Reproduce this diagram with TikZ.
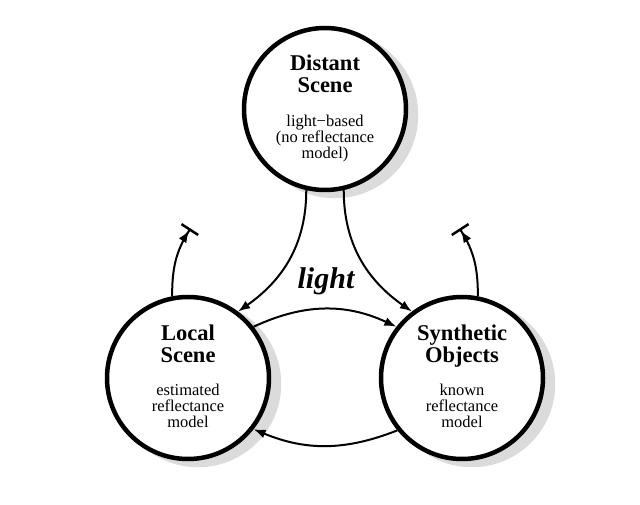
\documentclass[tikz,border=0pt]{standalone}
\usepackage{fontspec}
\setmainfont{Liberation Serif}
\usetikzlibrary{arrows.meta}
\begin{document}
\begin{tikzpicture}[x=1pt,y=1pt,
  state/.style={circle, draw, line width=4.5pt, fill=white, minimum size=162pt, inner sep=0pt},
  shadowc/.style={circle, fill=black!14, minimum size=166.5pt, inner sep=0pt},
  ttl/.style={font=\fontsize{22.5}{22}\selectfont\bfseries, anchor=base, inner sep=0pt},
  sub/.style={font=\fontsize{16.5}{16.5}\selectfont, anchor=base, inner sep=0pt},
  conn/.style={line width=2pt, -{Latex[length=12pt,width=9pt]}},
  inhib/.style={line width=2pt, -{Latex[length=12pt,width=9pt] Bar[width=20pt, line width=2.5pt]}}
]
\useasboundingbox (0,0) rectangle (640,504);
% shadows
\node[shadowc] (Ds) at (335,389) {};
\node[shadowc] (Ls) at (198,120) {};
\node[shadowc] (Ss) at (472,120) {};
% circles
\node[state] (D) at (325,395) {};
\node[state] (L) at (188,126) {};
\node[state] (S) at (462,126) {};
% texts
\node[ttl] (d1) at ([yshift=38pt]D.center) {Distant};
\node[ttl] (d2) at ([yshift=16pt]D.center) {Scene};
\node[sub] (d3) at ([yshift=-17.5pt]D.center) {light−based};
\node[sub] (d4) at ([yshift=-33.5pt]D.center) {(no reflectance};
\node[sub] (d5) at ([yshift=-49.5pt]D.center) {model)};
\node[ttl] (l1) at ([yshift=38pt]L.center) {Local};
\node[ttl] (l2) at ([yshift=16pt]L.center) {Scene};
\node[sub] (l3) at ([yshift=-17.5pt]L.center) {estimated};
\node[sub] (l4) at ([yshift=-33.5pt]L.center) {reflectance};
\node[sub] (l5) at ([yshift=-49.5pt]L.center) {model};
\node[ttl] (s1) at ([yshift=38pt]S.center) {Synthetic};
\node[ttl] (s2) at ([yshift=16pt]S.center) {Objects};
\node[sub] (s3) at ([yshift=-17.5pt]S.center) {known};
\node[sub] (s4) at ([yshift=-33.5pt]S.center) {reflectance};
\node[sub] (s5) at ([yshift=-49.5pt]S.center) {model};
\node[font=\fontsize{30}{30}\selectfont\bfseries\itshape, anchor=base, inner sep=0pt] (lt) at (326,215) {light};
% bar end points
\coordinate (lb) at (190.5,275.5);
\coordinate (rb) at (459.5,275.5);
% connectors
\draw[conn] (D.-103) to[out=-90,in=35] (L.53);
\draw[conn] (D.-77) to[out=-90,in=145] (S.127);
\draw[conn] (L.38) to[bend left=25] (S.142);
\draw[conn] (S.-141) to[bend left=22] (L.-38);
\draw[inhib] (L.101) to[out=90,in=-123] (lb);
\draw[inhib] (S.79) to[out=90,in=-57] (rb);
\end{tikzpicture}
\end{document}
